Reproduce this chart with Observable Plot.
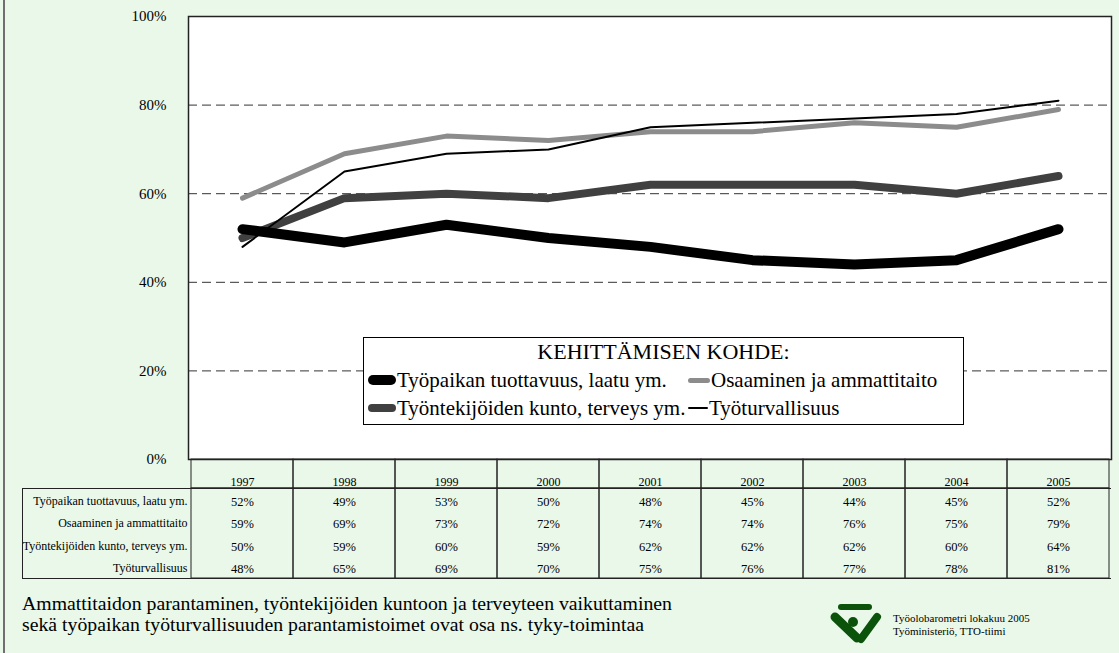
<!DOCTYPE html>
<html><head><meta charset="utf-8">
<script src="https://cdn.jsdelivr.net/npm/d3@7"></script>
<script src="https://cdn.jsdelivr.net/npm/@observablehq/plot@0.6"></script>
<style>
body{margin:0;background:#e9f8e9;color:#000;}
#page, #page div, #page span, #page svg, #page text{font-family:"Liberation Serif","Times New Roman",serif !important;}
#page{position:relative;width:1119px;height:653px;overflow:hidden;background:#e9f8e9;}
#page svg.plotsvg{position:absolute;left:0;}
#leftline{position:absolute;left:3px;top:0;width:2px;height:653px;background:#6f6f6f;}
#labelbox{position:absolute;left:22px;top:488px;width:0;height:90px;border-left:1px solid #222;}
#legend{position:absolute;left:363px;top:337px;width:601px;height:88px;background:#fff;border:1px solid #000;box-sizing:border-box;font-size:21px;}
#legend .title{position:absolute;left:0;right:0;top:2px;text-align:center;font-size:22px;line-height:24px;}
#legend .item{position:absolute;display:flex;align-items:center;white-space:nowrap;line-height:24px;}
#legend .sw{display:inline-block;border-radius:6px;margin-right:1px;}
#footer{position:absolute;left:22px;top:593px;font-size:19.75px;line-height:21px;white-space:nowrap;}
#source{position:absolute;left:893px;top:612px;font-size:11px;line-height:13px;white-space:nowrap;}
</style></head><body>
<div id="page">
  <div id="leftline"></div>
</div>
<script>
const years = ["1997","1998","1999","2000","2001","2002","2003","2004","2005"];
const seriesNames = ["Työpaikan tuottavuus, laatu ym.","Osaaminen ja ammattitaito","Työntekijöiden kunto, terveys ym.","Työturvallisuus"];
const tuottavuus = [52,49,53,50,48,45,44,45,52];
const osaaminen = [59,69,73,72,74,74,76,75,79];
const kunto = [50,59,60,59,62,62,62,60,64];
const turvallisuus = [48,65,69,70,75,76,77,78,81];
const yTicks = [0,0.2,0.4,0.6,0.8,1];
const gridTicks = [0.2,0.4,0.6,0.8];
const legendTitle = "KEHITTÄMISEN KOHDE:";
const footerLines = ["Ammattitaidon parantaminen, työntekijöiden kuntoon ja terveyteen vaikuttaminen","sekä työpaikan työturvallisuuden parantamistoimet ovat osa ns. tyky-toimintaa"];
const sourceLines = ["Työolobarometri lokakuu 2005","Työministeriö, TTO-tiimi"];

const seriesValues = [tuottavuus, osaaminen, kunto, turvallisuus];
const styles = [
  {stroke:"#000", width:10},
  {stroke:"#8c8c8c", width:5},
  {stroke:"#404040", width:8},
  {stroke:"#000", width:2}
];
const rows = [];
seriesValues.forEach((vals,i)=>vals.forEach((v,j)=>rows.push({s:i, year:years[j], value:v/100, label:v+"%"})));

const font = '"Liberation Serif","Times New Roman",serif';
const drawOrder = [1,2,3,0];
const page = document.getElementById("page");

const chart = Plot.plot({
  width:1119, height:460, marginTop:16, marginBottom:1, marginLeft:188, marginRight:8,
  style:{background:"transparent", fontFamily:font, color:"#000", overflow:"visible"},
  x:{type:"point", domain:years, padding:0.5, axis:null},
  y:{domain:[0,1], axis:null, label:null},
  marks:[
    Plot.frame({fill:"white"}),
    Plot.ruleY(gridTicks, {stroke:"#333", strokeDasharray:"9,5", strokeWidth:1}),
    Plot.axisY({ticks:yTicks, tickFormat:d3.format(".0%"), tickSize:0, tickPadding:22, fontSize:15, label:null}),
    ...drawOrder.map(i=>Plot.line(rows.filter(r=>r.s===i), {x:"year", y:"value", stroke:styles[i].stroke, strokeWidth:styles[i].width, strokeLinecap:"round", strokeLinejoin:"round"})),
    Plot.frame({stroke:"#222", strokeWidth:1.5})
  ]
});
chart.classList.add("plotsvg");
chart.style.top = "0px";
page.appendChild(chart);

const hdr = 29/22.5;
const table = Plot.plot({
  width:1119, height:120, marginTop:0, marginBottom:1, marginLeft:22, marginRight:8,
  style:{background:"transparent", fontFamily:font, color:"#000", overflow:"visible"},
  x:{type:"band", domain:years, range:[188,1111], padding:0, axis:null},
  y:{domain:[0, hdr+4], reverse:true, axis:null},
  marks:[
    Plot.barY(years, {x:d=>d, y1:0, y2:hdr, fill:"none", stroke:"#222"}),
    Plot.barY(years, {x:d=>d, y1:hdr, y2:hdr+4, fill:"none", stroke:"#222"}),
    Plot.ruleY([hdr, hdr+4], {stroke:"#222"}),
    Plot.text(years, {x:d=>d, y:hdr, text:d=>d, lineAnchor:"bottom", dy:-3, fontSize:12}),
    Plot.text(rows, {x:"year", y:d=>hdr+d.s+0.5, text:"label", fontSize:12.5, dy:2}),
    Plot.text(seriesNames, {frameAnchor:"left", y:(d,i)=>hdr+i+0.5, text:d=>d, textAnchor:"end", dx:165, fontSize:12, dy:1})
  ]
});
table.classList.add("plotsvg");
table.style.top = "459px";
page.appendChild(table);

const lb = document.createElement("div"); lb.id="labelbox"; page.appendChild(lb);

// legend
const legend = document.createElement("div");
legend.id = "legend";
legend.innerHTML = `<div class="title">${legendTitle}</div>`;
const pos = [[4,30,28],[324,30,22],[4,58,28],[324,58,20]];
[0,1,2,3].forEach(i=>{
  const it = document.createElement("div");
  it.className="item";
  it.style.left = pos[i][0]+"px";
  it.style.top = pos[i][1]+"px";
  it.style.height = "24px";
  const sw = document.createElement("span");
  sw.className="sw";
  sw.style.width = pos[i][2]+"px";
  sw.style.height = styles[i].width+"px";
  sw.style.background = styles[i].stroke;
  it.appendChild(sw);
  it.appendChild(document.createTextNode(seriesNames[i]));
  legend.appendChild(it);
});
page.appendChild(legend);

const footer = document.createElement("div");
footer.id="footer";
footer.innerHTML = footerLines.join("<br>");
page.appendChild(footer);

const source = document.createElement("div");
source.id="source";
source.innerHTML = sourceLines.join("<br>");
page.appendChild(source);

const logo = document.createElementNS("http://www.w3.org/2000/svg","svg");
logo.setAttribute("width","60");
logo.setAttribute("height","46");
logo.innerHTML = `<g fill="#0b520b" stroke="#0b520b" stroke-linecap="round">
<line x1="15" y1="7" x2="43" y2="7" stroke-width="6"/>
<line x1="9" y1="17" x2="31" y2="38" stroke-width="9"/>
<line x1="51" y1="17" x2="35" y2="39" stroke-width="8"/>
<circle cx="27" cy="22" r="5" stroke="none"/>
</g>`;
logo.style.position="absolute";
logo.style.left="826px";
logo.style.top="600px";
page.appendChild(logo);
</script>
</body></html>
